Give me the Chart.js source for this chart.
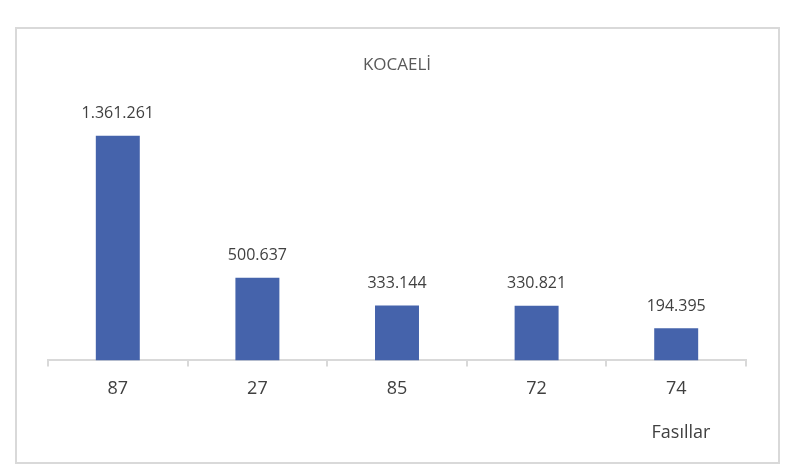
<!DOCTYPE html>
<html>
<head>
<meta charset="utf-8">
<script src="https://cdn.jsdelivr.net/npm/chart.js@4.4.1/dist/chart.umd.min.js"></script>
<style>
  html, body { margin: 0; padding: 0; background: #fff; }
  #wrap { position: relative; width: 793px; height: 473px; }
  #frame { position: absolute; left: 15px; top: 27px; width: 761px; height: 433px; border: 2px solid #d9d9d9; }
  canvas { position: absolute; left: 0; top: 0; }
</style>
</head>
<body>
<div id="wrap">
  <div id="frame"></div>
  <canvas id="chart" width="793" height="473"></canvas>
</div>
<script>
const categories = ['87', '27', '85', '72', '74'];
const values = [1361261, 500637, 333144, 330821, 194395];
const chartTitle = 'KOCAELİ';
const axisName = 'Fasıllar';

const textColor = '#404040';
const fontFamily = '"Open Sans", sans-serif';

function trNumber(v) {
  return String(v).replace(/\B(?=(\d{3})+(?!\d))/g, '.');
}

// value labels above each bar + axis name under the axis
const labelsPlugin = {
  id: 'labelsPlugin',
  afterDatasetsDraw(chart) {
    const c = chart.ctx;
    const meta = chart.getDatasetMeta(0);
    c.save();
    c.fillStyle = textColor;
    c.font = '16px ' + fontFamily;
    c.textAlign = 'center';
    c.textBaseline = 'middle';
    meta.data.forEach((bar, i) => {
      c.fillText(trNumber(values[i]), bar.x, bar.y - 22);
    });
    c.font = '18px ' + fontFamily;
    c.fillText(axisName, chart.chartArea.right - 65, 433);
    c.restore();
  }
};

const ctx = document.getElementById('chart').getContext('2d');
const chart = new Chart(ctx, {
  type: 'bar',
  data: {
    labels: categories,
    datasets: [{
      data: values,
      backgroundColor: '#4563AB',
      borderWidth: 0,
      categoryPercentage: 1,
      barPercentage: 0.315
    }]
  },
  options: {
    responsive: false,
    animation: false,
    layout: { padding: { left: 48, right: 47, top: 39, bottom: 61 } },
    plugins: {
      legend: { display: false },
      tooltip: { enabled: false },
      title: {
        display: true,
        text: chartTitle,
        color: '#595959',
        font: { family: fontFamily, size: 17, weight: 'normal' },
        padding: { top: 16, bottom: 21 }
      }
    },
    scales: {
      x: {
        grid: { display: true, drawOnChartArea: false, offset: true, color: '#d9d9d9', tickLength: 6, lineWidth: 2 },
        border: { display: true, color: '#d9d9d9', width: 2 },
        ticks: { color: textColor, font: { family: fontFamily, size: 18 }, padding: 12 }
      },
      y: {
        display: false,
        min: 0,
        max: 1600000
      }
    }
  },
  plugins: [labelsPlugin]
});
</script>
</body>
</html>
